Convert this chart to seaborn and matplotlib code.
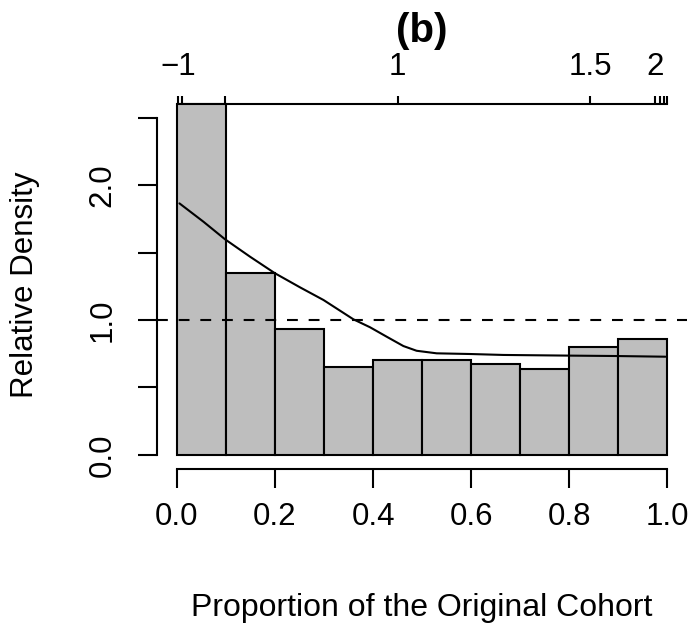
import numpy as np
import pandas as pd
import matplotlib
matplotlib.use("Agg")
import matplotlib.pyplot as plt
import seaborn as sns

# ---- data ----
bin_edges = [0.0, 0.1, 0.2, 0.3, 0.4, 0.5, 0.6, 0.7, 0.8, 0.9, 1.0]
bin_heights = [2.6, 1.35, 0.93, 0.65, 0.705, 0.70, 0.675, 0.64, 0.80, 0.86]

curve_x = [0.005, 0.054, 0.098, 0.149, 0.200, 0.251, 0.299, 0.360, 0.394,
           0.428, 0.462, 0.489, 0.530, 0.598, 0.666, 0.802, 0.897, 0.997]
curve_y = [1.864, 1.728, 1.598, 1.469, 1.346, 1.242, 1.148, 1.005, 0.946,
           0.876, 0.807, 0.772, 0.753, 0.748, 0.741, 0.736, 0.733, 0.728]

reference_level = 1.0

x_ticks = [0.0, 0.2, 0.4, 0.6, 0.8, 1.0]
x_ticklabels = ["0.0", "0.2", "0.4", "0.6", "0.8", "1.0"]
y_ticks = [0.0, 0.5, 1.0, 1.5, 2.0, 2.5]
y_ticklabels = ["0.0", "", "1.0", "", "2.0", ""]
top_ticks = [0.002, 0.010, 0.098, 0.450, 0.843, 0.976, 0.986, 0.994, 0.999]
top_ticklabels = ["\u22121", "", "", "1", "1.5", "2", "", "", ""]

title_text = "(b)"
xlabel_text = "Proportion of the Original Cohort"
ylabel_text = "Relative Density"

# ---- styling ----
sns.set_style("white")
plt.rcParams['font.family'] = ['Liberation Sans', 'DejaVu Sans']
plt.rcParams['text.color'] = 'black'
plt.rcParams['axes.labelcolor'] = 'black'
plt.rcParams['xtick.color'] = 'black'
plt.rcParams['ytick.color'] = 'black'
FS = 22.5
LW = 1.5

W, H = 691, 626
fig = plt.figure(figsize=(W / 100, H / 100), dpi=100)
left_px, right_px, top_px, bottom_px = 157.4, 686.6, 90.0, 469.0
ax = fig.add_axes([left_px / W, 1 - bottom_px / H,
                   (right_px - left_px) / W, (bottom_px - top_px) / H])

mids = [(a + b) / 2 for a, b in zip(bin_edges[:-1], bin_edges[1:])]
df = pd.DataFrame({"mid": mids, "height": bin_heights})
sns.histplot(data=df, x="mid", weights="height", bins=bin_edges, stat="count",
             color="#bebebe", edgecolor="black", linewidth=LW, alpha=1.0, ax=ax)

sns.lineplot(x=curve_x, y=curve_y, color="black", linewidth=LW, ax=ax,
             sort=True, estimator=None)

ax.axhline(reference_level, color="black", linewidth=LW, dashes=(5.2, 5.2))

ymax = max(bin_heights)
ax.set_xlim(-0.04, 1.04)
ax.set_ylim(-0.04 * ymax, ymax * 1.04)
ax.grid(False)

for s in ["top", "right"]:
    ax.spines[s].set_visible(False)
for s in ["left", "bottom"]:
    ax.spines[s].set_linewidth(LW)
    ax.spines[s].set_color("black")
ax.spines["left"].set_bounds(y_ticks[0], y_ticks[-1])
ax.spines["bottom"].set_bounds(x_ticks[0], x_ticks[-1])

ax.set_xticks(x_ticks, x_ticklabels)
ax.set_yticks(y_ticks, y_ticklabels)
tick_len = 19 * 72 / 100
ax.tick_params(axis="x", direction="out", length=tick_len, width=LW,
               labelsize=FS, colors="black", pad=10, bottom=True)
ax.tick_params(axis="y", direction="out", length=tick_len, width=LW,
               labelsize=FS, colors="black", pad=15, left=True, labelrotation=90)
for t in ax.get_yticklabels():
    t.set_va("center")

# top axis at y = max bar height
ylo, yhi = ax.get_ylim()
sec = ax.secondary_xaxis((ymax - ylo) / (yhi - ylo))
sec.set_xticks(top_ticks, top_ticklabels)
sec.tick_params(direction="out", length=8 * 72 / 100, width=LW,
                labelsize=FS, colors="black", pad=10.4)
sec.spines["top"].set_linewidth(LW)
sec.spines["top"].set_color("black")
sec.spines["top"].set_bounds(top_ticks[0], top_ticks[-1])

ax.set_xlabel(xlabel_text, fontsize=23, color="black")
ax.set_ylabel(ylabel_text, fontsize=FS, color="black")
ax.xaxis.set_label_coords(0.5, -0.327)
ax.yaxis.set_label_coords(-0.2219, 0.4855)

ax.set_title(title_text, fontsize=29, fontweight="bold", color="black",
             y=(bottom_px - 42) / (bottom_px - top_px), pad=0)

fig.savefig("out.png", dpi=100)
